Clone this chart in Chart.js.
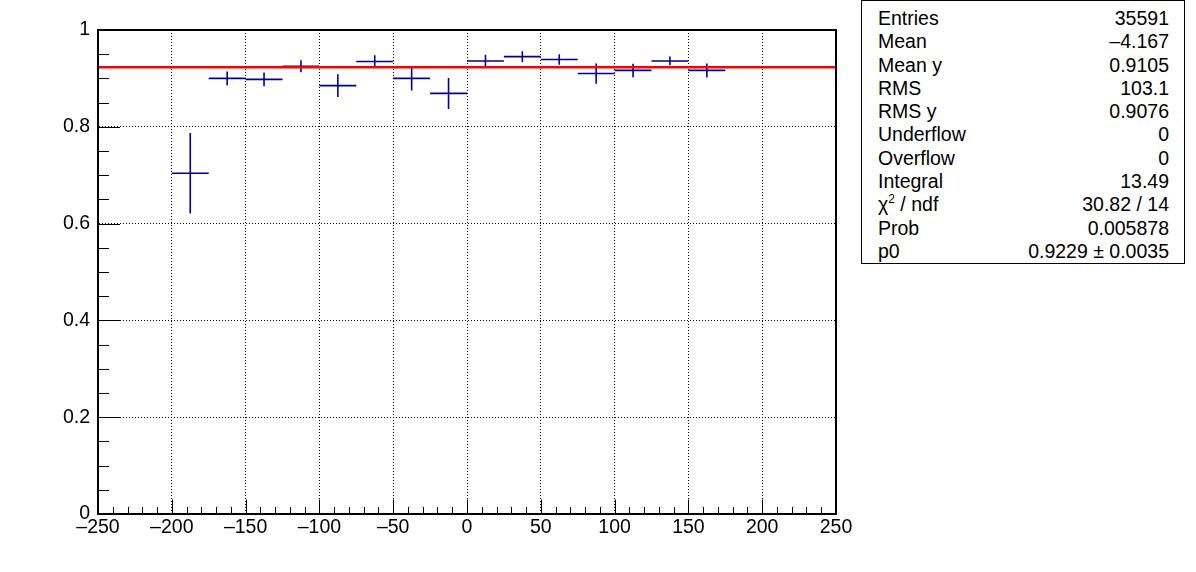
<!DOCTYPE html>
<html>
<head>
<meta charset="utf-8">
<script src="https://cdn.jsdelivr.net/npm/chart.js@4"></script>
<style>
  html, body { margin: 0; padding: 0; background: #fff; }
  #wrap { position: relative; width: 1196px; height: 572px; overflow: hidden; }
  #c { position: absolute; left: 0; top: 0; }
  #stats {
    position: absolute; left: 861px; top: 0px; width: 324px; height: 264px;
    box-sizing: border-box; border: 1px solid #000; background: #fff;
    font-family: "Liberation Sans", Arial, Helvetica, sans-serif; font-size: 19.5px; color: #000;
    padding: 6px 15px 0 16px;
  }
  #stats .row { display: flex; justify-content: space-between; height: 23.3px; line-height: 23.3px; white-space: nowrap; }
  #stats sup { font-size: 12px; line-height: 0; position: relative; top: -1px; }
</style>
</head>
<body>
<div id="wrap">
  <canvas id="c" width="1196" height="572"></canvas>
  <div id="stats"></div>
</div>
<script>
// ---- data ----
const binCenters = [-187.5, -162.5, -137.5, -112.5, -87.5, -62.5, -37.5, -12.5, 12.5, 37.5, 62.5, 87.5, 112.5, 137.5, 162.5];
const binHalfWidth = 12.5;
const binValues = [0.704, 0.900, 0.898, 0.925, 0.885, 0.935, 0.900, 0.869, 0.936, 0.945, 0.939, 0.910, 0.9165, 0.936, 0.9165];
const binErrors = [0.083, 0.014, 0.014, 0.0124, 0.0235, 0.013, 0.025, 0.032, 0.013, 0.011, 0.011, 0.021, 0.014, 0.009, 0.0145];
const fitValue = 0.9229;
const xRange = [-250, 250];
const yRange = [0, 1];
const xTickValues = [-250, -200, -150, -100, -50, 0, 50, 100, 150, 200, 250];
const yTickValues = [0, 0.2, 0.4, 0.6, 0.8, 1];
const statLabels = ["Entries", "Mean", "Mean y", "RMS", "RMS y", "Underflow", "Overflow", "Integral", "χ<sup>2</sup> / ndf", "Prob", "p0"];
const statValues = ["35591", "\u20134.167", "0.9105", "103.1", "0.9076", "0", "0", "13.49", "30.82 / 14", "0.005878", "0.9229 \u00b1 0.0035"];

// ---- stats box ----
const statsEl = document.getElementById('stats');
statLabels.forEach((l, i) => {
  const r = document.createElement('div');
  r.className = 'row';
  r.innerHTML = '<span>' + l + '</span><span>' + statValues[i] + '</span>';
  statsEl.appendChild(r);
});

// ---- build error-bar segment datasets ----
const hSeg = [], vSeg = [];
binCenters.forEach((xc, i) => {
  const y = binValues[i], e = binErrors[i];
  hSeg.push({x: xc - binHalfWidth, y: y}, {x: xc + binHalfWidth, y: y}, {x: xc + binHalfWidth, y: null});
  vSeg.push({x: xc, y: y - e}, {x: xc, y: y + e}, {x: xc, y: null});
});
const fitLine = [{x: xRange[0], y: fitValue}, {x: xRange[1], y: fitValue}];

const fmt = v => {
  const r = Math.round(v * 1000) / 1000;
  return r < 0 ? '\u2013' + Math.abs(r) : String(r);
};

// inward ticks + frame plugin (uses the chart's own scales)
const rootFrame = {
  id: 'rootFrame',
  afterDatasetsDraw(chart) {
    const {ctx, chartArea: a, scales: {x, y}} = chart;
    ctx.save();
    ctx.strokeStyle = '#000';
    ctx.lineWidth = 1;
    for (let v = xRange[0]; v <= xRange[1] + 1e-9; v += 10) {
      const px = Math.round(x.getPixelForValue(v)) + 0.5;
      const major = Math.abs(v % 50) < 1e-9;
      const len = major ? 14.5 : 7;
      ctx.beginPath(); ctx.moveTo(px, a.bottom); ctx.lineTo(px, a.bottom - len); ctx.stroke();
    }
    for (let k = 0; k <= 20; k++) {
      const v = k * 0.05;
      const py = Math.round(y.getPixelForValue(v)) + 0.5;
      const major = k % 4 === 0;
      const len = major ? 22 : 11;
      ctx.beginPath(); ctx.moveTo(a.left, py); ctx.lineTo(a.left + len, py); ctx.stroke();
    }
    ctx.lineWidth = 2;
    ctx.strokeRect(a.left, a.top, a.right - a.left, a.bottom - a.top);
    ctx.restore();
  }
};

const tickFont = { family: '"Liberation Sans", Arial, Helvetica, sans-serif', size: 19.5 };

new Chart(document.getElementById('c'), {
  type: 'scatter',
  data: {
    datasets: [
      { label: 'fit', data: fitLine, showLine: true, borderColor: '#ff0000', borderWidth: 2.5, pointRadius: 0, order: 0 },
      { label: 'h', data: hSeg, showLine: true, spanGaps: false, borderColor: '#000099', borderWidth: 1.6, pointRadius: 0, order: 1 },
      { label: 'v', data: vSeg, showLine: true, spanGaps: false, borderColor: '#000099', borderWidth: 1.6, pointRadius: 0, order: 1 }
    ]
  },
  options: {
    responsive: false,
    animation: false,
    events: [],
    layout: { padding: { left: 0, right: 360, top: 30, bottom: 0 } },
    plugins: { legend: { display: false }, tooltip: { enabled: false } },
    scales: {
      x: {
        type: 'linear', min: xRange[0], max: xRange[1],
        afterFit: s => { s.height = 58; },
        afterBuildTicks: s => { s.ticks = xTickValues.map(v => ({value: v})); },
        ticks: { callback: fmt, color: '#000', padding: 2, maxRotation: 0, autoSkip: false, font: tickFont },
        grid: { color: '#000', lineWidth: 1, drawTicks: false },
        border: { display: true, color: '#000', width: 2, dash: [1, 2] }
      },
      y: {
        type: 'linear', min: yRange[0], max: yRange[1],
        afterFit: s => { s.width = 98; },
        afterBuildTicks: s => { s.ticks = yTickValues.map(v => ({value: v})); },
        ticks: { callback: fmt, color: '#000', padding: 8, autoSkip: false, font: tickFont },
        grid: { color: '#000', lineWidth: 1, drawTicks: false },
        border: { display: true, color: '#000', width: 2, dash: [1, 2] }
      }
    }
  },
  plugins: [rootFrame]
});
</script>
</body>
</html>
